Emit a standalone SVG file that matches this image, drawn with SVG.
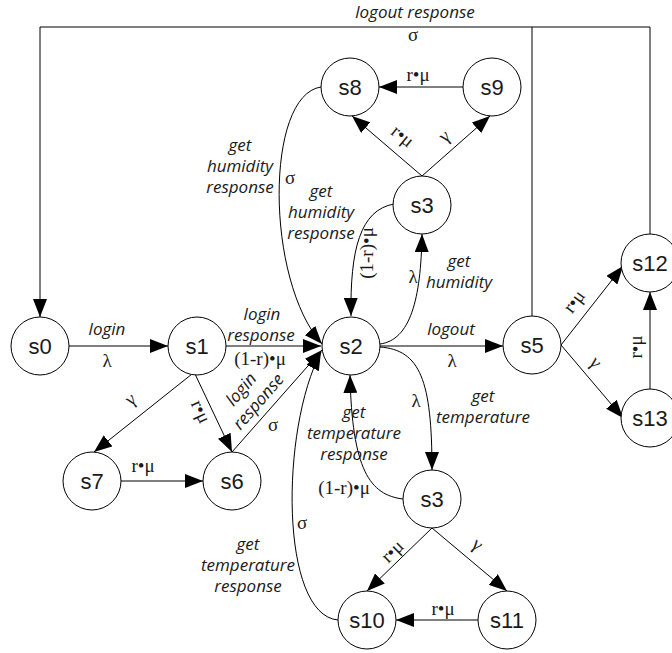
<svg xmlns="http://www.w3.org/2000/svg" width="672" height="653" viewBox="0 0 672 653">
<defs>
<marker id="arr" markerUnits="userSpaceOnUse" markerWidth="18" markerHeight="14" viewBox="0 0 18 14" refX="18" refY="7" orient="auto">
<path d="M0,0 L18,7 L0,14 z" fill="#000"/>
</marker>
<style>
.n circle{fill:#fff;stroke:#000;stroke-width:1}
.n text{font-family:"Liberation Sans",Arial,sans-serif;font-size:22px;text-anchor:middle;fill:#1a1a1a}
.e path{fill:none;stroke:#000;stroke-width:1}
.e .a{marker-end:url(#arr)}
.it{font-family:"Open Sans","Noto Sans",sans-serif;font-style:italic;font-size:17px;text-anchor:middle;fill:#1a1a1a}
.g{font-family:"Liberation Serif","Times New Roman",serif;font-size:19px;text-anchor:middle;fill:#1a1a1a}
</style>
</defs>
<rect width="672" height="653" fill="#fff"/>
<g id="connectors" class="e">
<path d="M650,234 V27 H40 V317" class="a"/>
<path d="M532,316 V27"/>
<path d="M69,346 H168" class="a"/>
<path d="M226,346 H321" class="a"/>
<path d="M195,374 L232,452" class="a"/>
<path d="M192,374 L94,452" class="a"/>
<path d="M121,481 H203" class="a"/>
<path d="M232,452 L322,350" class="a"/>
<path d="M321,87 C265,95 265,280 322,344" class="a"/>
<path d="M394,204 C360,210 350,250 351,316" class="a"/>
<path d="M380,344 C410,340 421,300 422,234" class="a"/>
<path d="M380,346 H503" class="a"/>
<path d="M380,347 C420,350 432,380 432,470" class="a"/>
<path d="M403,499 C370,495 352,470 350,375" class="a"/>
<path d="M338,620 C280,615 280,430 321,352" class="a"/>
<path d="M432,528 L367,591" class="a"/>
<path d="M432,528 L507,591" class="a"/>
<path d="M478,620 H396" class="a"/>
<path d="M422,176 L352,116" class="a"/>
<path d="M422,176 L490,116" class="a"/>
<path d="M463,87 H379" class="a"/>
<path d="M561,345 L623,266" class="a"/>
<path d="M561,345 L623,418" class="a"/>
<path d="M650,390 V292" class="a"/>
</g>
<g id="labels">
<text class="it" x="415" y="18">logout response</text>
<text class="g" x="413" y="41">σ</text>
<text class="it" x="107" y="335">login</text>
<text class="g" x="107" y="367">λ</text>
<text class="it" x="262" y="320">login</text>
<text class="it" x="261" y="341">response</text>
<text class="g" x="260" y="365">(1-r)•μ</text>
<text class="g" transform="translate(200,412) rotate(65)" y="5">r•μ</text>
<text class="g" transform="translate(131,400) rotate(-38)" y="5">γ</text>
<text class="g" x="143" y="472">r•μ</text>
<g transform="translate(250,397) rotate(-49)">
<text class="it" x="0" y="-6">login</text>
<text class="it" x="2" y="15">response</text>
</g>
<text class="g" x="273" y="431">σ</text>
<text class="it" x="240" y="151">get</text>
<text class="it" x="240" y="172">humidity</text>
<text class="it" x="240" y="193">response</text>
<text class="g" x="290" y="184">σ</text>
<text class="it" x="321" y="197">get</text>
<text class="it" x="321" y="218">humidity</text>
<text class="it" x="321" y="239">response</text>
<text class="g" transform="translate(368,253) rotate(-90)" y="5">(1-r)•μ</text>
<text class="g" x="413" y="283">λ</text>
<text class="it" x="459" y="267">get</text>
<text class="it" x="459" y="288">humidity</text>
<text class="g" x="418" y="81">r•μ</text>
<text class="g" transform="translate(402,137) rotate(39)" y="5">r•μ</text>
<text class="g" transform="translate(445,137) rotate(-40)" y="5">γ</text>
<text class="it" x="451" y="335">logout</text>
<text class="g" x="452" y="367">λ</text>
<text class="g" x="416" y="407">λ</text>
<text class="it" x="483" y="402">get</text>
<text class="it" x="483" y="423">temperature</text>
<text class="it" x="354" y="418">get</text>
<text class="it" x="354" y="439">temperature</text>
<text class="it" x="354" y="460">response</text>
<text class="g" x="344" y="494">(1-r)•μ</text>
<text class="g" x="302" y="529">σ</text>
<text class="it" x="248" y="550">get</text>
<text class="it" x="248" y="571">temperature</text>
<text class="it" x="248" y="592">response</text>
<text class="g" transform="translate(393,552) rotate(-44)" y="5">r•μ</text>
<text class="g" transform="translate(477,545) rotate(40)" y="5">γ</text>
<text class="g" x="443" y="615">r•μ</text>
<text class="g" transform="translate(575,302) rotate(-53)" y="5">r•μ</text>
<text class="g" transform="translate(595,363) rotate(50)" y="5">γ</text>
<text class="g" transform="translate(637,347) rotate(-90)" y="5">r•μ</text>
</g>
<g id="s0" class="n"><circle cx="40" cy="346" r="29"/><text x="40" y="354">s0</text></g>
<g id="s1" class="n"><circle cx="197" cy="346" r="29"/><text x="197" y="354">s1</text></g>
<g id="s2" class="n"><circle cx="351" cy="346" r="29"/><text x="351" y="354">s2</text></g>
<g id="s3a" class="n"><circle cx="422" cy="205" r="29"/><text x="422" y="213">s3</text></g>
<g id="s3b" class="n"><circle cx="432" cy="499" r="29"/><text x="432" y="507">s3</text></g>
<g id="s5" class="n"><circle cx="532" cy="345" r="29"/><text x="532" y="353">s5</text></g>
<g id="s6" class="n"><circle cx="232" cy="481" r="29"/><text x="232" y="489">s6</text></g>
<g id="s7" class="n"><circle cx="92" cy="481" r="29"/><text x="92" y="489">s7</text></g>
<g id="s8" class="n"><circle cx="350" cy="87" r="29"/><text x="350" y="95">s8</text></g>
<g id="s9" class="n"><circle cx="492" cy="87" r="29"/><text x="492" y="95">s9</text></g>
<g id="s10" class="n"><circle cx="367" cy="620" r="29"/><text x="367" y="628">s10</text></g>
<g id="s11" class="n"><circle cx="507" cy="620" r="29"/><text x="507" y="628">s11</text></g>
<g id="s12" class="n"><circle cx="650" cy="263" r="29"/><text x="650" y="271">s12</text></g>
<g id="s13" class="n"><circle cx="650" cy="418" r="29"/><text x="650" y="426">s13</text></g>
</svg>
